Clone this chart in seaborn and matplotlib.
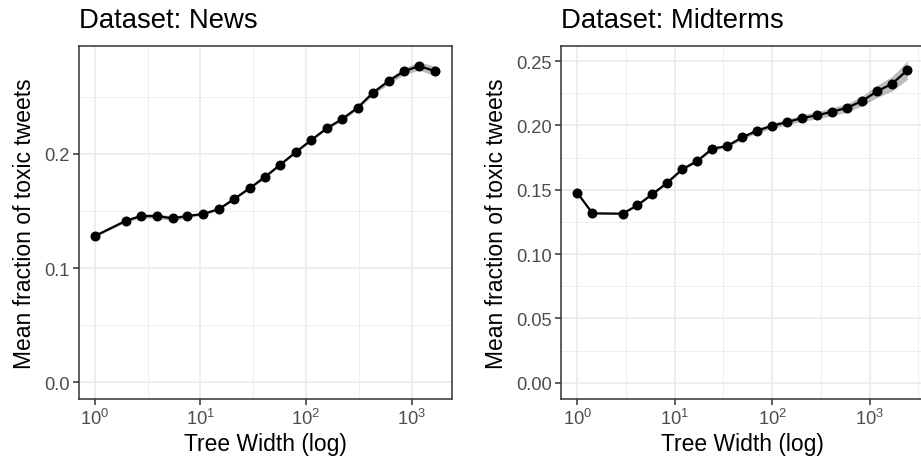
import numpy as np
import pandas as pd
import matplotlib
matplotlib.use("Agg")
import matplotlib.pyplot as plt
import matplotlib.ticker as mticker
import seaborn as sns

# ---- data ----
news_width = [1, 1.98, 2.74, 3.85, 5.47, 7.52, 10.6, 15.0, 20.8, 29.2, 41.1, 57.0,
              80.4, 112, 157, 220, 308, 430, 604, 843, 1178, 1667]
news_frac = [0.128, 0.1415, 0.1456, 0.1456, 0.1436, 0.1456, 0.1474, 0.1517, 0.1605,
             0.1699, 0.1800, 0.1906, 0.2017, 0.2122, 0.2224, 0.2306, 0.2405, 0.2536,
             0.2638, 0.2723, 0.2770, 0.2723]
news_ci = [0.001, 0.001, 0.002, 0.002, 0.002, 0.0015, 0.001, 0.001, 0.001, 0.001, 0.001,
           0.001, 0.001, 0.001, 0.001, 0.0015, 0.0015, 0.002, 0.0025, 0.003, 0.0035, 0.0045]

mid_width = [1, 1.43, 2.92, 4.12, 5.87, 8.32, 11.9, 17.0, 24.3, 34.5, 49.2, 70.1,
             100, 143, 203, 288, 412, 589, 832, 1194, 1698, 2427]
mid_frac = [0.1477, 0.1317, 0.1314, 0.1379, 0.1465, 0.1553, 0.1659, 0.1724, 0.1820,
            0.1840, 0.1908, 0.1960, 0.1998, 0.2027, 0.2058, 0.2079, 0.2107, 0.2138,
            0.2190, 0.2266, 0.2325, 0.2429]
mid_ci = [0.0005, 0.0005, 0.0005, 0.0005, 0.0008, 0.001, 0.001, 0.001, 0.0012, 0.0012,
          0.0015, 0.0018, 0.002, 0.0022, 0.0025, 0.0028, 0.003, 0.0033, 0.0038, 0.0047,
          0.0057, 0.0072]

titles = ["Dataset: News", "Dataset: Midterms"]
x_label = "Tree Width (log)"
y_label = "Mean fraction of toxic tweets"

sns.set_theme(style="white")
plt.rcParams["font.family"] = ["Liberation Sans", "DejaVu Sans"]
plt.rcParams["mathtext.fontset"] = "custom"
plt.rcParams["mathtext.rm"] = "Liberation Sans"
plt.rcParams["mathtext.it"] = "Liberation Sans:italic"
plt.rcParams["mathtext.default"] = "regular"

W, H = 921, 464
fig = plt.figure(figsize=(W / 100, H / 100), dpi=100)

def px_axes(l, r, t, b):
    return fig.add_axes([l / W, 1 - b / H, (r - l) / W, (b - t) / H])

ax1 = px_axes(78.7, 452.3, 46.5, 400)
ax2 = px_axes(560.7, 923.8, 46.5, 400)

panels = [
    (ax1, news_width, news_frac, news_ci, (0.706, 2417), (-0.0146, 0.2949),
     [0.0, 0.1, 0.2], [0.05, 0.15, 0.25], "%.1f"),
    (ax2, mid_width, mid_frac, mid_ci, (0.676, 3589), (-0.0127, 0.2622),
     [0.0, 0.05, 0.10, 0.15, 0.20, 0.25], [0.025, 0.075, 0.125, 0.175, 0.225], "%.2f"),
]

grid_c = "#EBEBEB"
for ax, xs, ys, ci, xl, yl, yt, ymin, fmt, in panels:
    df = pd.DataFrame({"w": xs, "f": ys, "c": ci})
    ax.set_facecolor("white")
    ax.fill_between(df["w"], df["f"] - df["c"], df["f"] + df["c"],
                    color="#999999", alpha=0.65, lw=0, zorder=2)
    sns.lineplot(data=df, x="w", y="f", ax=ax, color="black", lw=1.6,
                 marker="o", markersize=7.2, markeredgewidth=0, zorder=3)
    ax.set_xscale("log")
    ax.set_xlim(*xl)
    ax.set_ylim(*yl)
    ax.set_xticks([1, 10, 100, 1000])
    ax.xaxis.set_major_formatter(mticker.LogFormatterMathtext())
    ax.xaxis.set_minor_locator(mticker.FixedLocator([10 ** -0.5 * 10 ** k for k in range(0, 5)]))
    ax.xaxis.set_minor_formatter(mticker.NullFormatter())
    ax.set_yticks(yt)
    ax.yaxis.set_major_formatter(mticker.FormatStrFormatter(fmt))
    ax.yaxis.set_minor_locator(mticker.FixedLocator(ymin))
    ax.grid(True, which="major", color=grid_c, lw=1.2, zorder=0)
    ax.grid(True, which="minor", color=grid_c, lw=0.6, zorder=0)
    ax.set_axisbelow(True)
    for s in ax.spines.values():
        s.set_color("#333333")
        s.set_linewidth(1.1)
        s.set_visible(True)
    ax.tick_params(axis="both", which="major", length=4, width=1.1, color="#333333",
                   labelcolor="#4D4D4D", labelsize=13.2, pad=2.5, direction="out",
                   bottom=True, left=True)
    ax.tick_params(axis="both", which="minor", length=0)
    ax.set_xlabel(x_label, fontsize=16.5, color="black", labelpad=3)
    ax.set_ylabel(y_label, fontsize=16.5, color="black", labelpad=6)

ax1.set_title(titles[0], loc="left", fontsize=19.8, pad=13, color="black")
ax2.set_title(titles[1], loc="left", fontsize=19.8, pad=13, color="black")

fig.savefig("out.png", dpi=100, facecolor="white")
